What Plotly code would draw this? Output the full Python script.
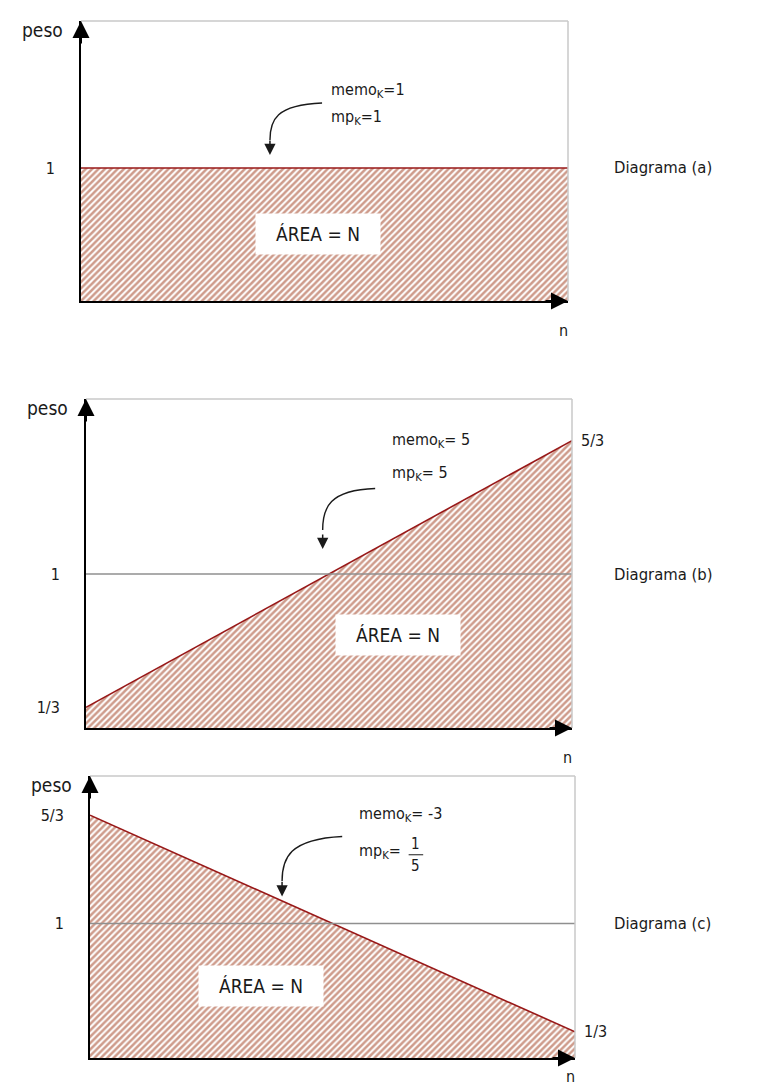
import plotly.graph_objects as go

# diagram data: peso along n (n normalised so that n = N is 1)
n_vals = [0, 1]
peso_a = [1, 1]
peso_b = [1/3, 5/3]
peso_c = [5/3, 1/3]
ref_level = [1, 1]

diag_names = ["Diagrama (a)", "Diagrama (b)", "Diagrama (c)"]
memo_text = ["memo<sub>K</sub>=1", "memo<sub>K</sub>= 5", "memo<sub>K</sub>= -3"]
mp_text = ["mp<sub>K</sub>=1", "mp<sub>K</sub>= 5", "mp<sub>K</sub>="]

left_ticks = [[1], [1/3, 1], [1, 5/3]]
left_labels = [["1"], ["1/3", "1"], ["1", "5/3"]]
right_ticks = [[], [5/3], [1/3]]
right_labels = [[], ["5/3"], ["1/3"]]

FONT = "Arial Narrow, Liberation Sans Narrow, DejaVu Sans Condensed, Liberation Sans, Arial, sans-serif"
HATCH = "#9e3817"
LINE = "#981818"
GREY = "#8f8f8f"
FRAME = "#c8c8c8"
INK = "#1a1a1a"

W, H = 768, 1086
# pixel boxes of the three panels: left, right, top, bottom
boxes = [(73, 560, 13, 293), (78, 564, 391, 720), (82, 567, 768, 1050)]
yranges = [[0, 2.105], [0.23, 1.875], [0.172, 1.908]]

fig = go.Figure()
peso_sets = [peso_a, peso_b, peso_c]

for i in range(3):
    xa = "x" if i == 0 else "x%d" % (i + 1)
    ya = "y" if i == 0 else "y%d" % (i + 1)
    fig.add_trace(go.Scatter(
        x=n_vals, y=peso_sets[i], xaxis=xa, yaxis=ya, mode="lines",
        line=dict(color=LINE, width=1.6), fill="tozeroy",
        fillpattern=dict(shape="/", fgcolor=HATCH, bgcolor="white",
                         size=4.5, solidity=0.55),
        hoverinfo="skip", showlegend=False))
    if i > 0:
        fig.add_trace(go.Scatter(
            x=n_vals, y=ref_level, xaxis=xa, yaxis=ya, mode="lines",
            line=dict(color=GREY, width=1.5), hoverinfo="skip",
            showlegend=False))

layout = dict(width=W, height=H, margin=dict(l=0, r=0, t=0, b=0),
              paper_bgcolor="white", plot_bgcolor="white",
              font=dict(family=FONT, size=16, color=INK),
              showlegend=False)

for i, (l, r, t, b) in enumerate(boxes):
    k = "" if i == 0 else str(i + 1)
    layout["xaxis" + k] = dict(domain=[l / W, r / W], range=[0, 1],
                               anchor="y" + k, showgrid=False, zeroline=False,
                               showline=True, linecolor="black", linewidth=2,
                               showticklabels=False, ticks="", fixedrange=True)
    layout["yaxis" + k] = dict(domain=[1 - b / H, 1 - t / H], range=yranges[i],
                               anchor="x" + k, showgrid=False, zeroline=False,
                               showline=True, linecolor="black", linewidth=2,
                               tickvals=left_ticks[i], ticktext=left_labels[i],
                               ticks="", ticklabelstandoff=21,
                               tickfont=dict(size=16), fixedrange=True)

# right-hand tick labels on overlaid axes
for k, base, xa, i in [("4", "y2", "x2", 1), ("5", "y3", "x3", 2)]:
    layout["yaxis" + k] = dict(overlaying=base, side="right", anchor=xa,
                               range=yranges[i], tickvals=right_ticks[i],
                               ticktext=right_labels[i], showgrid=False,
                               zeroline=False, showline=False, ticks="",
                               ticklabelstandoff=8, tickfont=dict(size=16),
                               fixedrange=True)
fig.update_layout(**layout)

# empty traces so the overlay axes get drawn
fig.add_trace(go.Scatter(x=[None], y=[None], xaxis="x2", yaxis="y4", showlegend=False))
fig.add_trace(go.Scatter(x=[None], y=[None], xaxis="x3", yaxis="y5", showlegend=False))

# label positions (data coords inside each panel)
area_pos = [(0.487, 0.504), (0.642, 0.695), (0.353, 0.616)]
memo_pos = [(0.51, 1.586, 1.376), (0.625, 1.67, 1.505), (0.55, 1.671, 1.443)]
curve = [
    [(0.495, 1.489), (0.40, 1.475), (0.388, 1.36), (0.388, 1.21)],
    [(0.595, 1.4275), (0.50, 1.42), (0.487, 1.33), (0.487, 1.22)],
    [(0.52, 1.536), (0.41, 1.52), (0.396, 1.40), (0.396, 1.26)],
]
tips = [(0.388, 1.098), (0.487, 1.125), (0.396, 1.166)]
n_shift = [-29, -29, -18]

for i in range(3):
    k = "" if i == 0 else str(i + 1)
    xr, yr = "x" + k, "y" + k
    # light frame, top and right
    fig.add_shape(type="line", xref=xr + " domain", yref=yr + " domain",
                  x0=0, x1=1, y0=1, y1=1, line=dict(color=FRAME, width=1.5))
    fig.add_shape(type="line", xref=xr + " domain", yref=yr + " domain",
                  x0=1, x1=1, y0=0, y1=1, line=dict(color=FRAME, width=1.5))
    # axis arrowheads
    fig.add_annotation(xref=xr + " domain", yref=yr + " domain", x=0, y=1.0,
                       ax=0, ay=24, text="", showarrow=True, arrowhead=2,
                       arrowsize=1.7, arrowwidth=2, arrowcolor="black")
    fig.add_annotation(xref=xr + " domain", yref=yr + " domain", x=1.0, y=0,
                       ax=-24, ay=0, text="", showarrow=True, arrowhead=2,
                       arrowsize=1.7, arrowwidth=2, arrowcolor="black")
    # axis names
    fig.add_annotation(xref=xr + " domain", yref=yr + " domain", x=0, y=1,
                       xshift=-16, yshift=-9, xanchor="right", yanchor="middle",
                       text="peso", showarrow=False, font=dict(size=19))
    fig.add_annotation(xref=xr + " domain", yref=yr + " domain", x=1, y=0,
                       xshift=-5, yshift=n_shift[i], xanchor="center",
                       yanchor="middle", text="n", showarrow=False,
                       font=dict(size=16))
    # diagram name
    fig.add_annotation(xref="paper", yref=yr, x=604 / W, y=1, xanchor="left",
                       yanchor="middle", text=diag_names[i], showarrow=False,
                       font=dict(size=16.5))
    # area label
    ax_, ay_ = area_pos[i]
    fig.add_annotation(xref=xr, yref=yr, x=ax_, y=ay_, text="ÁREA = N",
                       showarrow=False, bgcolor="white", width=112, height=28,
                       borderpad=6, font=dict(size=19))
    # memo / mp labels
    mx, my1, my2 = memo_pos[i]
    fig.add_annotation(xref=xr, yref=yr, x=mx, y=my1, xanchor="left",
                       yanchor="middle", text=memo_text[i], showarrow=False,
                       font=dict(size=16))
    fig.add_annotation(xref=xr, yref=yr, x=mx, y=my2, xanchor="left",
                       yanchor="middle", text=mp_text[i], showarrow=False,
                       font=dict(size=16))
    # curved pointer
    p = curve[i]
    path = "M %f,%f C %f,%f %f,%f %f,%f" % (p[0][0], p[0][1], p[1][0], p[1][1],
                                             p[2][0], p[2][1], p[3][0], p[3][1])
    fig.add_shape(type="path", xref=xr, yref=yr, path=path,
                  line=dict(color=INK, width=1.4))
    tx, ty = tips[i]
    fig.add_annotation(xref=xr, yref=yr, x=tx, y=ty, ax=0, ay=-16, text="",
                       showarrow=True, arrowhead=2, arrowsize=1.5,
                       arrowwidth=1.5, arrowcolor=INK)

# fraction 1/5 for mp_K in diagram (c)
fx = 0.672
fig.add_annotation(xref="x3", yref="y3", x=fx, y=1.49, text="1",
                   showarrow=False, font=dict(size=15))
fig.add_annotation(xref="x3", yref="y3", x=fx, y=1.357, text="5",
                   showarrow=False, font=dict(size=15))
fig.add_shape(type="line", xref="x3", yref="y3", x0=fx - 0.015, x1=fx + 0.015,
              y0=1.423, y1=1.423, line=dict(color=INK, width=1))

fig.write_html("out.html")
